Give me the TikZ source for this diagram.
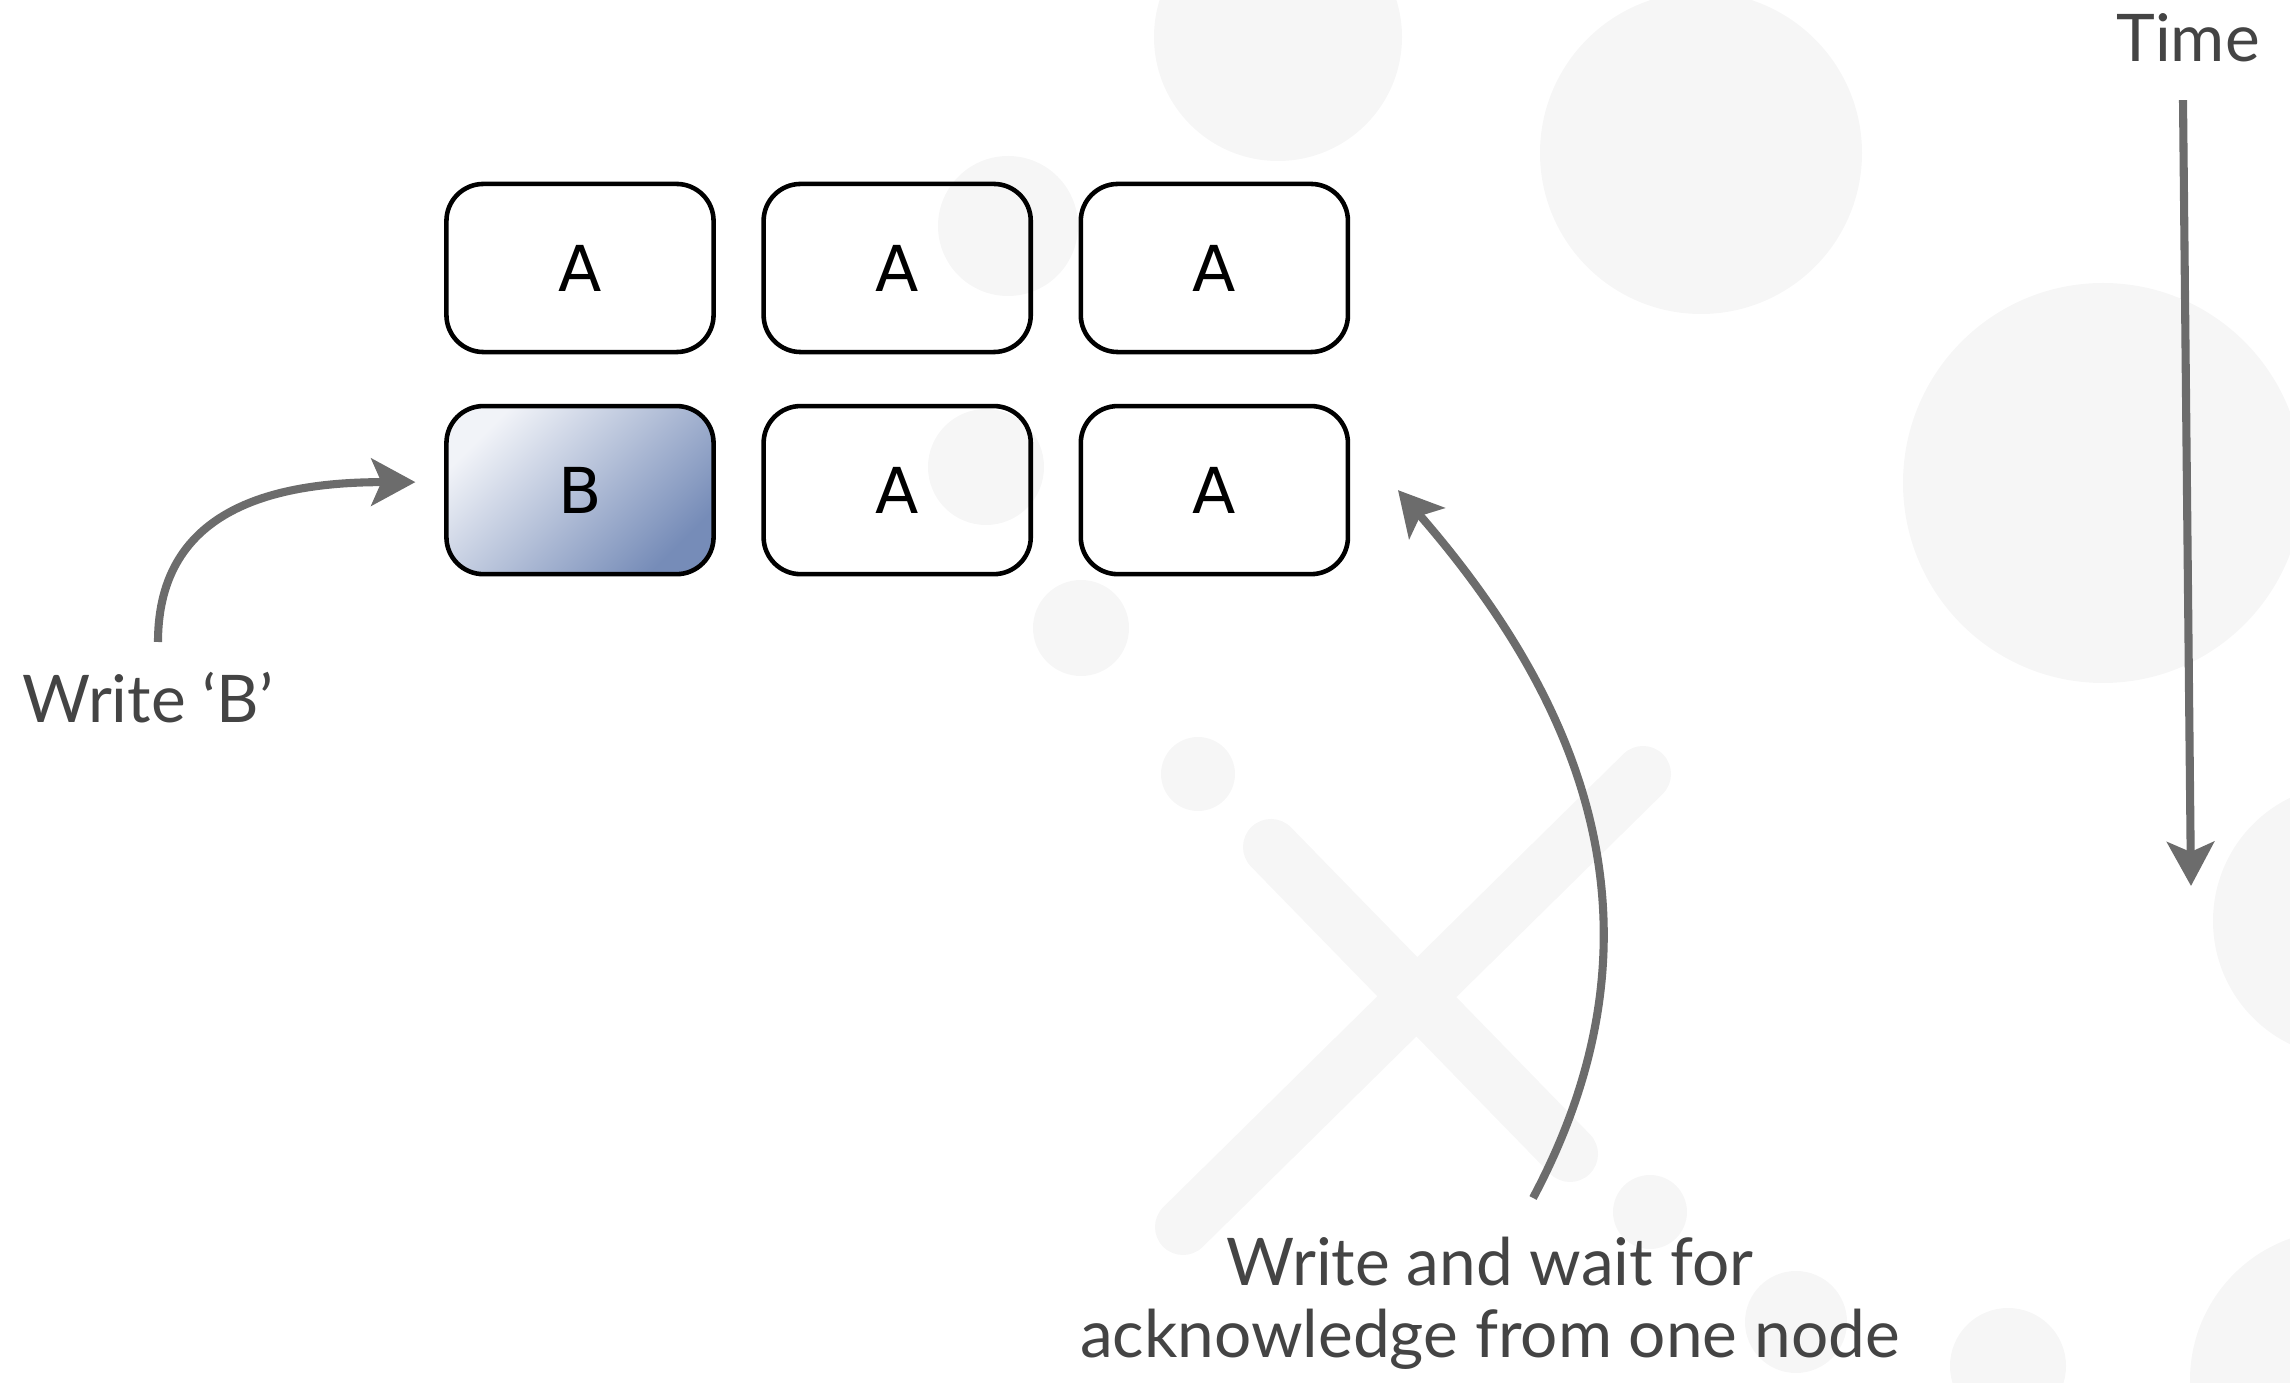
\documentclass[tikz,border=0pt]{standalone}
\usepackage{fontspec}
\setmainfont{Lato}
\newfontfamily\cellfont{DejaVu Sans}
\usetikzlibrary{positioning,arrows.meta}

\definecolor{bgdot}{RGB}{246,246,246}
\definecolor{arrowgray}{RGB}{108,108,108}
\definecolor{labelgray}{RGB}{68,68,68}
\definecolor{newtop}{RGB}{241,243,248}
\definecolor{newbottom}{RGB}{118,140,184}

\tikzset{
  cell/.style = {draw, line width=1.3pt, rounded corners=0.37cm, outer sep=0pt,
                 minimum width=2.67cm, minimum height=1.68cm,
                 font=\cellfont\fontsize{18}{20}\selectfont},
  newcell/.style = {cell, top color=newtop, bottom color=newbottom, shading angle=45},
  note/.style = {text=labelgray, inner sep=0pt, align=center,
                 font=\fontsize{18.7}{20.7}\selectfont},
  flow/.style = {draw=arrowgray, line width=2.3pt,
                 -{Stealth[length=0.44cm, width=0.47cm, inset=0.1cm]}}
}

\begin{document}
\begin{tikzpicture}[x=0.01cm, y=-0.01cm, node distance=0.54cm and 0.5cm]
  \useasboundingbox (0,0) rectangle (2290,1383);

  % faint dots behind everything
  \foreach \cx/\cy/\r in {1278/37/124, 1701/153/161, 2103/483/200, 1008/226/70,
                          986/467/58, 1081/628/48, 1198/774/37, 1650/1212/37,
                          1796/1322/51, 2008/1366/58, 2350/921/137, 2340/1380/150}
    \fill[bgdot] (\cx,\cy) circle (\r);
  \draw[bgdot, line width=0.56cm, line cap=round] (1271,847) -- (1570,1154);
  \draw[bgdot, line width=0.56cm, line cap=round] (1643,774) -- (1183,1227);

  % the six replicas
  \node[cell] (a1) at (580,268) {A};
  \node[cell, right=of a1] (a2) {A};
  \node[cell, right=of a2] (a3) {A};
  \node[newcell, below=of a1] (b1) {B};
  \node[cell, right=of b1] (b2) {A};
  \node[cell, right=of b2] (b3) {A};

  % labels
  \node[note, anchor=base] (writeb) at (148,723) {Write ‘B’};
  \node[note, anchor=north] (ack) at (1490,1236) {Write and wait for\\acknowledge from one node};
  \node[note, anchor=base] (time) at (2188,62) {Time};
  \coordinate (timeend) at (2191,886);

  \draw[flow] ([xshift=0.1cm, yshift=0.3cm]writeb.north)
    to[out=90, in=180, looseness=1.15] ([xshift=-0.31cm, yshift=0.08cm]b1.west);
  \draw[flow] ([xshift=0.43cm, yshift=0.38cm]ack.north)
    to[out=62, in=-49, looseness=1.05] ([xshift=0.5cm]b3.east);
  \draw[flow] ([xshift=-0.05cm, yshift=-0.37cm]time.south) -- (timeend);
\end{tikzpicture}
\end{document}
